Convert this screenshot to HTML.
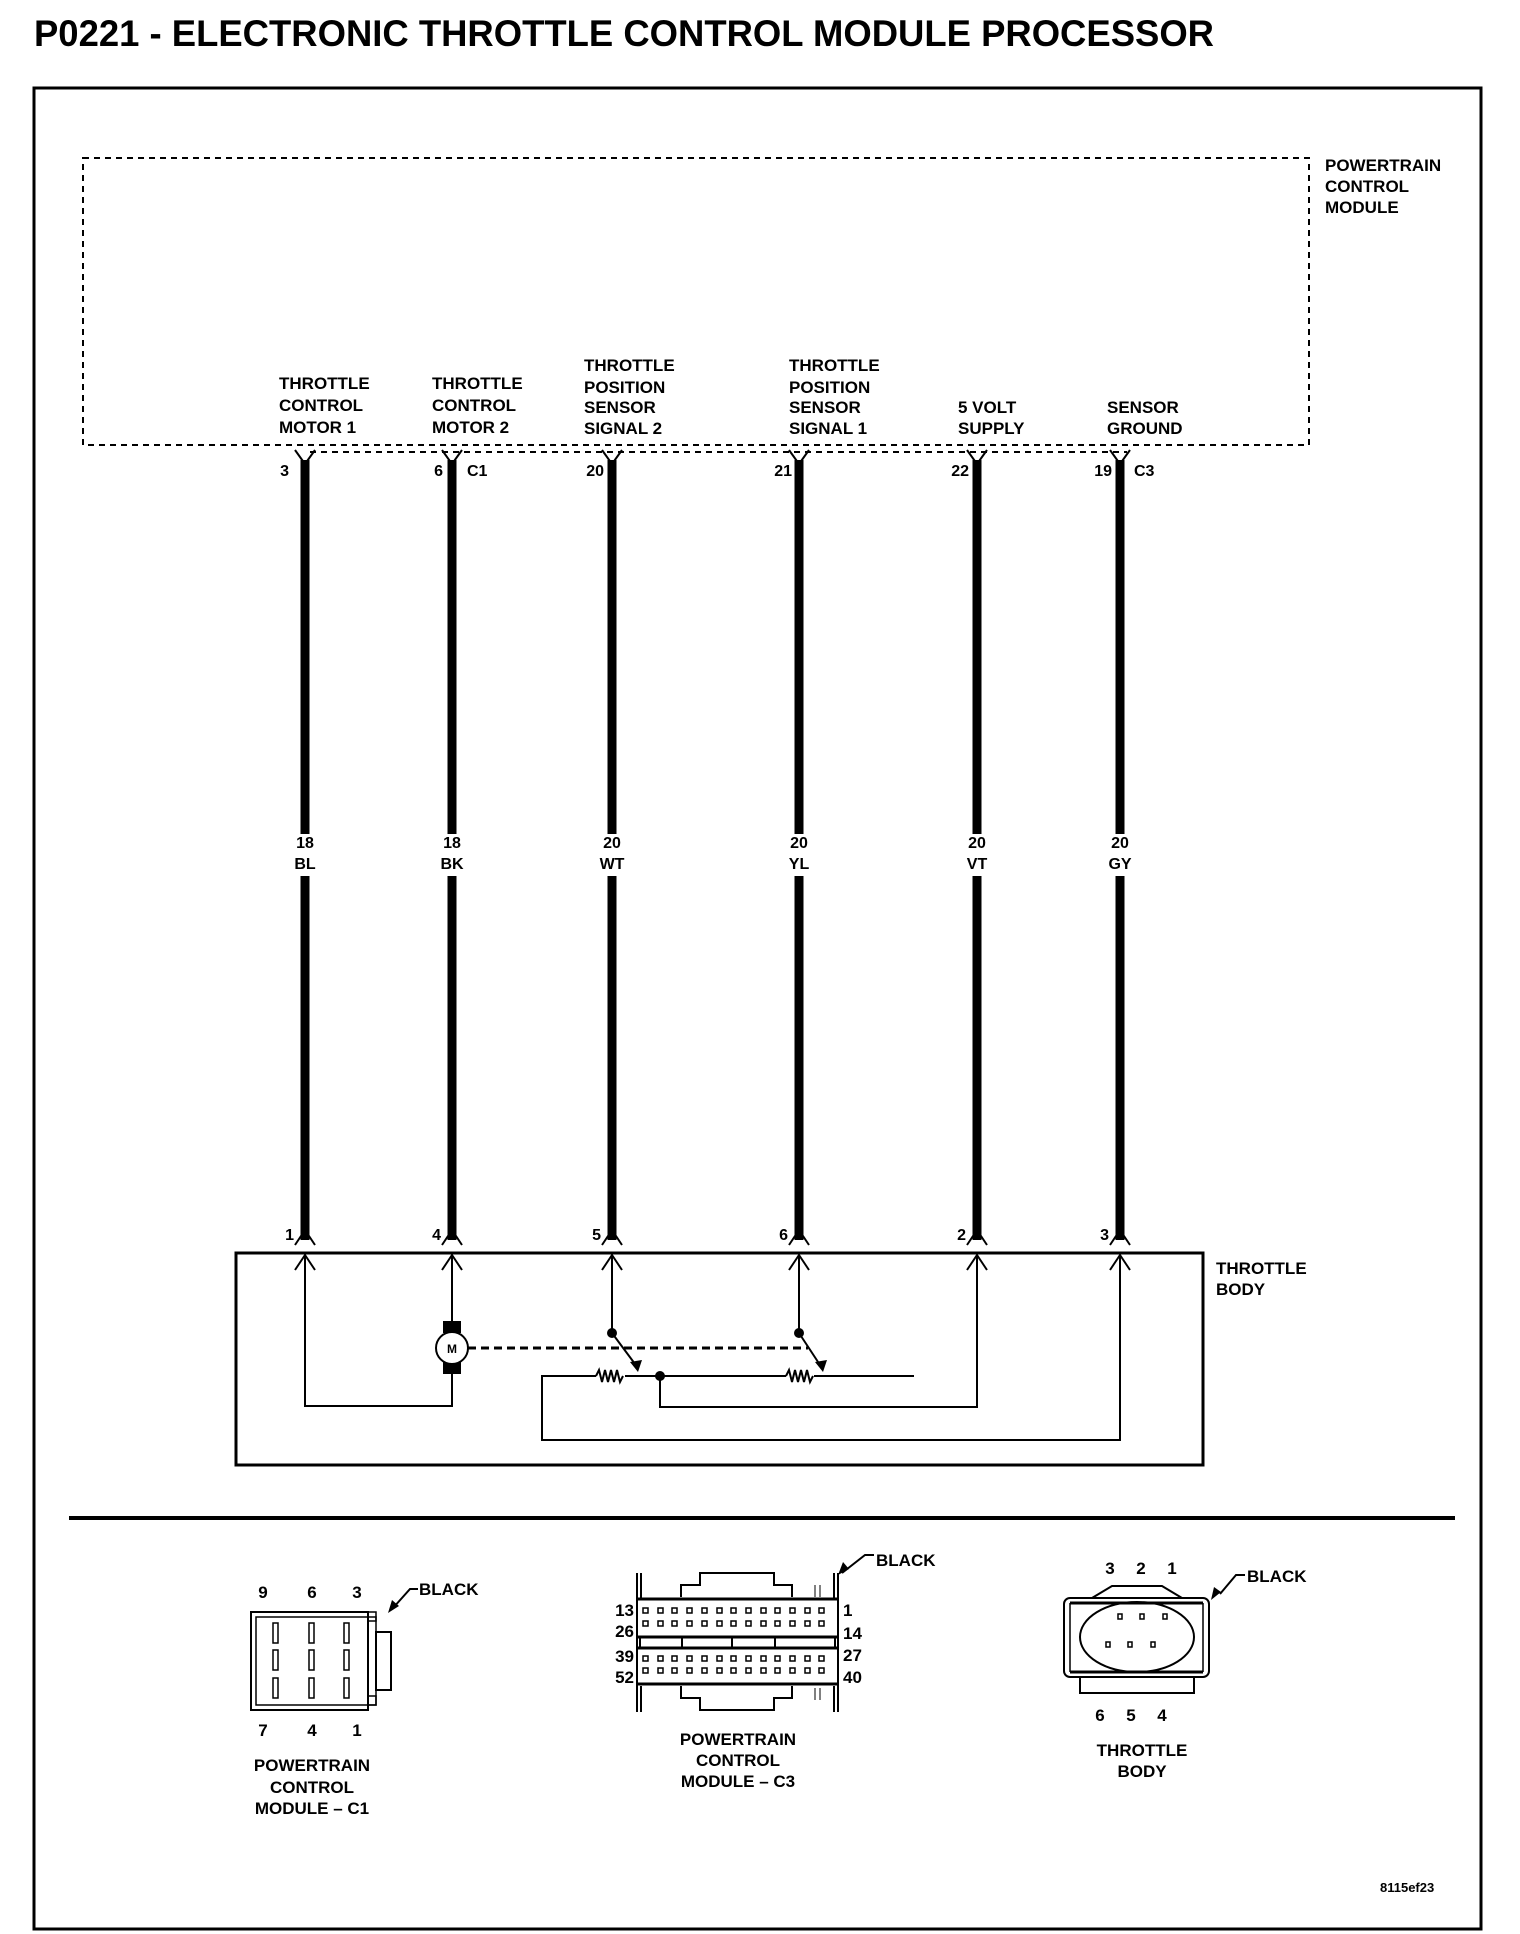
<!DOCTYPE html>
<html><head><meta charset="utf-8"><style>
html,body{margin:0;padding:0;background:#fff;}
svg{display:block;}
text{font-family:"Liberation Sans",sans-serif;font-weight:bold;fill:#000;}
</style></head><body>
<svg width="1520" height="1934" viewBox="0 0 1520 1934" xmlns="http://www.w3.org/2000/svg">
<text x="34" y="46" font-size="37" textLength="1180" lengthAdjust="spacingAndGlyphs">P0221 - ELECTRONIC THROTTLE CONTROL MODULE PROCESSOR</text>
<rect x="34" y="88" width="1447" height="1841" fill="none" stroke="#000" stroke-width="3"/>
<!-- PCM dashed -->
<rect x="83" y="158" width="1226" height="287" fill="none" stroke="#000" stroke-width="2" stroke-dasharray="6,5"/>
<g font-size="17">
<text x="1325" y="171">POWERTRAIN</text><text x="1325" y="192">CONTROL</text><text x="1325" y="213">MODULE</text>
<text x="279" y="389">THROTTLE</text><text x="279" y="411">CONTROL</text><text x="279" y="433">MOTOR 1</text>
<text x="432" y="389">THROTTLE</text><text x="432" y="411">CONTROL</text><text x="432" y="433">MOTOR 2</text>
<text x="584" y="371">THROTTLE</text><text x="584" y="393">POSITION</text><text x="584" y="413">SENSOR</text><text x="584" y="434">SIGNAL 2</text>
<text x="789" y="371">THROTTLE</text><text x="789" y="393">POSITION</text><text x="789" y="413">SENSOR</text><text x="789" y="434">SIGNAL 1</text>
<text x="958" y="413">5 VOLT</text><text x="958" y="434">SUPPLY</text>
<text x="1107" y="413">SENSOR</text><text x="1107" y="434">GROUND</text>
</g>
<line x1="310" y1="452" x2="1127" y2="452" stroke="#000" stroke-width="2" stroke-dasharray="6,5"/>
<g font-size="16">
<text x="289" y="476" text-anchor="end">3</text>
<text x="443" y="476" text-anchor="end">6</text><text x="467" y="476">C1</text>
<text x="604" y="476" text-anchor="end">20</text>
<text x="792" y="476" text-anchor="end">21</text>
<text x="969" y="476" text-anchor="end">22</text>
<text x="1112" y="476" text-anchor="end">19</text><text x="1134" y="476">C3</text>
</g>
<!-- wires -->
<g stroke="#000" fill="none">
<g stroke-width="9">
<line x1="305" y1="460" x2="305" y2="834"/><line x1="305" y1="876" x2="305" y2="1240"/>
<line x1="452" y1="460" x2="452" y2="834"/><line x1="452" y1="876" x2="452" y2="1240"/>
<line x1="612" y1="460" x2="612" y2="834"/><line x1="612" y1="876" x2="612" y2="1240"/>
<line x1="799" y1="460" x2="799" y2="834"/><line x1="799" y1="876" x2="799" y2="1240"/>
<line x1="977" y1="460" x2="977" y2="834"/><line x1="977" y1="876" x2="977" y2="1240"/>
<line x1="1120" y1="460" x2="1120" y2="834"/><line x1="1120" y1="876" x2="1120" y2="1240"/>
</g>
<g stroke-width="2">
<path d="M295 450 L305 464 L315 450 M442 450 L452 464 L462 450 M602 450 L612 464 L622 450 M789 450 L799 464 L809 450 M967 450 L977 464 L987 450 M1110 450 L1120 464 L1130 450"/>
<path d="M295 1245 L305 1230 L315 1245 M442 1245 L452 1230 L462 1245 M602 1245 L612 1230 L622 1245 M789 1245 L799 1230 L809 1245 M967 1245 L977 1230 L987 1245 M1110 1245 L1120 1230 L1130 1245"/>
<path d="M295 1270 L305 1255 L315 1270 M442 1270 L452 1255 L462 1270 M602 1270 L612 1255 L622 1270 M789 1270 L799 1255 L809 1270 M967 1270 L977 1255 L987 1270 M1110 1270 L1120 1255 L1130 1270"/>
</g>
<rect x="236" y="1253" width="967" height="212" stroke-width="3"/>
<g stroke-width="2">
<path d="M305 1255 V1406 H452 V1372"/>
<path d="M452 1255 V1322"/>
<path d="M612 1255 V1333 M799 1255 V1333"/>
<path d="M977 1255 V1407 H660 V1376"/>
<path d="M1120 1255 V1440 H542 V1376 H596 M625 1376 H786 M814 1376 H914"/>
<path d="M596 1376 l3 -6 l3 12 l3 -12 l3 12 l3 -12 l3 12 l3 -12 l3 12 l3 -6 M786 1376 l3 -6 l3 12 l3 -12 l3 12 l3 -12 l3 12 l3 -12 l3 12 l3 -6"/>
<path d="M612 1333 L638 1368 M799 1333 L822 1368"/>
</g>
<line x1="468" y1="1348" x2="808" y2="1348" stroke-width="3" stroke-dasharray="8,5"/>
</g>
<polygon points="638,1372 630,1362 642,1360" fill="#000"/>
<polygon points="823,1372 815,1362 827,1360" fill="#000"/>
<circle cx="612" cy="1333" r="5" fill="#000"/><circle cx="799" cy="1333" r="5" fill="#000"/><circle cx="660" cy="1376" r="5" fill="#000"/>
<rect x="443" y="1321" width="18" height="12" fill="#000"/><rect x="443" y="1362" width="18" height="12" fill="#000"/>
<circle cx="452" cy="1348" r="16" fill="#fff" stroke="#000" stroke-width="2"/>
<text x="452" y="1353" font-size="12" text-anchor="middle">M</text>
<g font-size="16" text-anchor="middle">
<text x="305" y="848">18</text><text x="305" y="869">BL</text>
<text x="452" y="848">18</text><text x="452" y="869">BK</text>
<text x="612" y="848">20</text><text x="612" y="869">WT</text>
<text x="799" y="848">20</text><text x="799" y="869">YL</text>
<text x="977" y="848">20</text><text x="977" y="869">VT</text>
<text x="1120" y="848">20</text><text x="1120" y="869">GY</text>
</g>
<g font-size="16" text-anchor="end">
<text x="294" y="1240">1</text><text x="441" y="1240">4</text><text x="601" y="1240">5</text><text x="788" y="1240">6</text><text x="966" y="1240">2</text><text x="1109" y="1240">3</text>
</g>
<text x="1216" y="1274" font-size="17">THROTTLE</text><text x="1216" y="1295" font-size="17">BODY</text>
<line x1="69" y1="1518" x2="1455" y2="1518" stroke="#000" stroke-width="4"/>
<!-- C1 connector -->
<g stroke="#000" fill="none" stroke-width="2">
<rect x="251" y="1612" width="117" height="98"/>
<rect x="256" y="1617" width="120" height="88" stroke-width="1.5"/>
<rect x="368" y="1612" width="8" height="9" stroke-width="1.5"/>
<rect x="368" y="1696" width="8" height="9" stroke-width="1.5"/>
<rect x="376" y="1632" width="15" height="58"/>
<g stroke-width="1.5">
<rect x="273" y="1623" width="5" height="20"/><rect x="309" y="1623" width="5" height="20"/><rect x="344" y="1623" width="5" height="20"/>
<rect x="273" y="1650" width="5" height="20"/><rect x="309" y="1650" width="5" height="20"/><rect x="344" y="1650" width="5" height="20"/>
<rect x="273" y="1678" width="5" height="20"/><rect x="309" y="1678" width="5" height="20"/><rect x="344" y="1678" width="5" height="20"/>
</g>
<path d="M418 1589 L410 1589 L393 1608"/>
</g>
<polygon points="388,1613 392,1600 399,1606" fill="#000"/>
<g font-size="17">
<text x="263" y="1598" text-anchor="middle">9</text><text x="312" y="1598" text-anchor="middle">6</text><text x="357" y="1598" text-anchor="middle">3</text>
<text x="263" y="1736" text-anchor="middle">7</text><text x="312" y="1736" text-anchor="middle">4</text><text x="357" y="1736" text-anchor="middle">1</text>
<text x="419" y="1595">BLACK</text>
<g text-anchor="middle"><text x="312" y="1771">POWERTRAIN</text><text x="312" y="1793">CONTROL</text><text x="312" y="1814">MODULE – C1</text></g>
</g>
<!-- C3 connector -->
<g stroke="#000" fill="none" stroke-width="2">
<path d="M637 1573 V1712 M838 1573 V1712"/>
<path d="M641 1573 V1598 M834 1573 V1598 M641 1686 V1712 M834 1686 V1712"/>
<line x1="637" y1="1599" x2="838" y2="1599" stroke-width="3"/>
<line x1="637" y1="1637" x2="838" y2="1637" stroke-width="3"/>
<line x1="637" y1="1648" x2="838" y2="1648" stroke-width="3"/>
<line x1="637" y1="1684" x2="838" y2="1684" stroke-width="3"/>
<path d="M681 1597 V1585 H700 V1573 H774 V1585 H792 V1597 M681 1686 V1698 H700 V1710 H774 V1698 H792 V1686"/>
<path d="M640 1637 V1648 M682 1637 V1648 M732 1637 V1648 M775 1637 V1648 M835 1637 V1648"/>
<path d="M815 1585 V1597 M820 1585 V1597 M815 1688 V1700 M820 1688 V1700" stroke-width="1"/>
<path d="M842 1573 L865 1555 L874 1555"/>
</g>
<polygon points="838,1575 843,1562 849,1569" fill="#000"/>
<g fill="none" stroke="#000" stroke-width="1.5">
<path d="M643 1608h5v5h-5z M658 1608h5v5h-5z M672 1608h5v5h-5z M687 1608h5v5h-5z M702 1608h5v5h-5z M717 1608h5v5h-5z M731 1608h5v5h-5z M746 1608h5v5h-5z M761 1608h5v5h-5z M775 1608h5v5h-5z M790 1608h5v5h-5z M805 1608h5v5h-5z M819 1608h5v5h-5z"/>
<path d="M643 1621h5v5h-5z M658 1621h5v5h-5z M672 1621h5v5h-5z M687 1621h5v5h-5z M702 1621h5v5h-5z M717 1621h5v5h-5z M731 1621h5v5h-5z M746 1621h5v5h-5z M761 1621h5v5h-5z M775 1621h5v5h-5z M790 1621h5v5h-5z M805 1621h5v5h-5z M819 1621h5v5h-5z"/>
<path d="M643 1656h5v5h-5z M658 1656h5v5h-5z M672 1656h5v5h-5z M687 1656h5v5h-5z M702 1656h5v5h-5z M717 1656h5v5h-5z M731 1656h5v5h-5z M746 1656h5v5h-5z M761 1656h5v5h-5z M775 1656h5v5h-5z M790 1656h5v5h-5z M805 1656h5v5h-5z M819 1656h5v5h-5z"/>
<path d="M643 1668h5v5h-5z M658 1668h5v5h-5z M672 1668h5v5h-5z M687 1668h5v5h-5z M702 1668h5v5h-5z M717 1668h5v5h-5z M731 1668h5v5h-5z M746 1668h5v5h-5z M761 1668h5v5h-5z M775 1668h5v5h-5z M790 1668h5v5h-5z M805 1668h5v5h-5z M819 1668h5v5h-5z"/>
</g>
<g font-size="17">
<text x="634" y="1616" text-anchor="end">13</text><text x="634" y="1637" text-anchor="end">26</text>
<text x="634" y="1662" text-anchor="end">39</text><text x="634" y="1683" text-anchor="end">52</text>
<text x="843" y="1616">1</text><text x="843" y="1639">14</text><text x="843" y="1661">27</text><text x="843" y="1683">40</text>
<text x="876" y="1566">BLACK</text>
<g text-anchor="middle"><text x="738" y="1745">POWERTRAIN</text><text x="738" y="1766">CONTROL</text><text x="738" y="1787">MODULE – C3</text></g>
</g>
<!-- Throttle body connector -->
<g stroke="#000" fill="none" stroke-width="2">
<path d="M1092 1598 L1112 1586 H1162 L1182 1598"/>
<rect x="1064" y="1598" width="145" height="79" rx="6"/>
<path d="M1070 1603 H1203 M1070 1672 H1203" stroke-width="3"/>
<path d="M1070 1603 V1672 M1203 1603 V1672" stroke-width="1.5"/>
<path d="M1080 1677 V1693 H1194 V1677"/>
<ellipse cx="1137" cy="1637" rx="57" ry="35"/>
<g stroke-width="1.5">
<rect x="1118" y="1614" width="4" height="5"/><rect x="1140" y="1614" width="4" height="5"/><rect x="1163" y="1614" width="4" height="5"/>
<rect x="1106" y="1642" width="4" height="5"/><rect x="1128" y="1642" width="4" height="5"/><rect x="1151" y="1642" width="4" height="5"/>
</g>
<path d="M1245 1575 L1236 1575 L1220 1594"/>
</g>
<polygon points="1211,1600 1214,1587 1221,1592" fill="#000"/>
<g font-size="17">
<text x="1110" y="1574" text-anchor="middle">3</text><text x="1141" y="1574" text-anchor="middle">2</text><text x="1172" y="1574" text-anchor="middle">1</text>
<text x="1100" y="1721" text-anchor="middle">6</text><text x="1131" y="1721" text-anchor="middle">5</text><text x="1162" y="1721" text-anchor="middle">4</text>
<text x="1247" y="1582">BLACK</text>
<g text-anchor="middle"><text x="1142" y="1756">THROTTLE</text><text x="1142" y="1777">BODY</text></g>
</g>
<text x="1380" y="1892" font-size="13">8115ef23</text>
</svg>
</body></html>
